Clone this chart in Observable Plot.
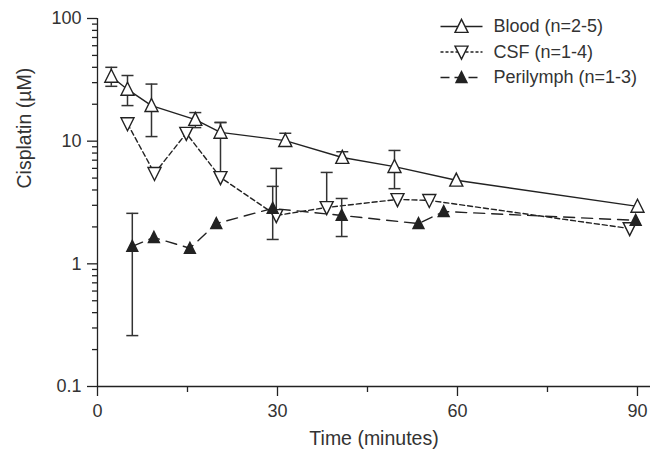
<!DOCTYPE html>
<html><head><meta charset="utf-8">
<script src="https://cdn.jsdelivr.net/npm/d3@7"></script>
<script src="https://cdn.jsdelivr.net/npm/@observablehq/plot@0.6"></script>
<style>body{margin:0;background:#fff} svg{display:block}</style>
</head><body><div id="chart"></div>
<script>
// Blood (n=2-5)
const bloodTime  = [2.3, 5, 9, 16.3, 20.5, 31.3, 40.8, 49.5, 59.8, 90];
const bloodValue = [33.7, 26.4, 19.5, 15.0, 11.8, 10.1, 7.36, 6.2, 4.8, 2.94];
const bloodHigh  = [40, 34.3, 29.2, 17.1, 14.2, 11.6, 8.2, 8.4, null, null];
const bloodLow   = [28, 19.5, 10.9, 12.9, null, 9.4, 6.7, 4.1, null, null];
// CSF (n=1-4)
const csfTime  = [5, 9.5, 14.8, 20.5, 29.8, 38.2, 50, 55.3, 88.7];
const csfValue = [13.9, 5.46, 11.6, 5.06, 2.48, 2.88, 3.35, 3.29, 1.94];
const csfHigh  = [null, null, null, 14.2, 6.0, 5.56, null, null, null];
const csfLow   = [null, null, null, null, null, null, null, null, null];
// Perilymph (n=1-3)
const periTime  = [5.8, 9.4, 15.4, 19.8, 29.2, 40.7, 53.5, 57.7, 89.7];
const periValue = [1.39, 1.64, 1.34, 2.13, 2.83, 2.48, 2.13, 2.67, 2.26];
const periHigh  = [2.58, null, null, null, 4.28, 3.41, null, null, null];
const periLow   = [0.26, null, null, null, 1.58, 1.67, null, null, null];

const seriesNames = ["Blood (n=2-5)", "CSF (n=1-4)", "Perilymph (n=1-3)"];
const xLabel = "Time (minutes)";
const yLabel = "Cisplatin (\u00b5M)";
const xTicks = [0, 30, 60, 90];
const xMinorTicks = [15, 45, 75];
const yTicks = [0.1, 1, 10, 100];
const yMinorTicks = [0.2,0.3,0.4,0.5,0.6,0.7,0.8,0.9,2,3,4,5,6,7,8,9,20,30,40,50,60,70,80,90];

function rows(t, v, hi, lo) { return t.map((d, i) => ({t: d, v: v[i], hi: hi[i], lo: lo[i]})); }
const blood = rows(bloodTime, bloodValue, bloodHigh, bloodLow);
const csf = rows(csfTime, csfValue, csfHigh, csfLow);
const peri = rows(periTime, periValue, periHigh, periLow);

const triUp = {draw(ctx, size) { const r = Math.sqrt(size / Math.PI); ctx.moveTo(0, -r * 1.1); ctx.lineTo(r, r * 0.9); ctx.lineTo(-r, r * 0.9); ctx.closePath(); }};
const triDown = {draw(ctx, size) { const r = Math.sqrt(size / Math.PI); ctx.moveTo(0, r * 1.1); ctx.lineTo(r, -r * 0.9); ctx.lineTo(-r, -r * 0.9); ctx.closePath(); }};
const cap = {draw(ctx, size) { const r = Math.sqrt(size / Math.PI); ctx.moveTo(-r, 0); ctx.lineTo(r, 0); }};
const legLine = {draw(ctx, size) { ctx.moveTo(-21, 0); ctx.lineTo(21, 0); }};

const ink = "#222";
const styles = [
  {data: blood, dash: null, legDash: null, sym: triUp, fill: "white", r: 6.5},
  {data: csf, dash: "5,3", legDash: "3,2", sym: triDown, fill: "white", r: 6.5},
  {data: peri, dash: "11,7", legDash: "9,5", sym: triUp, fill: ink, r: 5.5}
];

const marks = [
  Plot.ruleX([0], {stroke: ink, strokeWidth: 1.3}),
  Plot.ruleY([0.1], {stroke: ink, strokeWidth: 1.3}),
  Plot.axisX({ticks: xTicks, tickSize: 10, tickPadding: 8, tickFormat: d => String(d), stroke: ink, strokeWidth: 1.3, label: null}),
  Plot.axisX({ticks: xMinorTicks, tickSize: 6, tickFormat: () => "", stroke: ink, strokeWidth: 1.3, label: null}),
  Plot.axisY({ticks: yTicks, tickSize: 10, tickPadding: 6, tickFormat: d => String(d), stroke: ink, strokeWidth: 1.3, label: null}),
  Plot.axisY({ticks: yMinorTicks, tickSize: 5, tickFormat: () => "", stroke: ink, strokeWidth: 1.3, label: null}),
  Plot.text([xLabel], {frameAnchor: "bottom", dy: 52, text: d => d, lineAnchor: "middle", fontSize: 19.5, fill: "#333"}),
  Plot.text([yLabel], {frameAnchor: "left", dx: -73, dy: -14, rotate: -90, text: d => d, lineAnchor: "middle", fontSize: 19.5, fill: "#333"})
];

for (const s of styles) {
  marks.push(Plot.line(s.data, {x: "t", y: "v", stroke: ink, strokeWidth: 1.4, strokeDasharray: s.dash}));
}
for (const s of styles) {
  const hiRows = s.data.filter(d => d.hi != null);
  const loRows = s.data.filter(d => d.lo != null);
  marks.push(Plot.ruleX(hiRows, {x: "t", y1: "v", y2: "hi", stroke: "#333", strokeWidth: 1.5}));
  marks.push(Plot.ruleX(loRows, {x: "t", y1: "v", y2: "lo", stroke: "#333", strokeWidth: 1.5}));
  marks.push(Plot.dot(hiRows, {x: "t", y: "hi", symbol: cap, r: 6, stroke: "#333", strokeWidth: 1.5}));
  marks.push(Plot.dot(loRows, {x: "t", y: "lo", symbol: cap, r: 6, stroke: "#333", strokeWidth: 1.5}));
}
for (const s of styles) {
  marks.push(Plot.dot(s.data, {x: "t", y: "v", symbol: s.sym, r: s.r, fill: s.fill, stroke: ink, strokeWidth: 1.4}));
}
// legend
styles.forEach((s, i) => {
  const dy = 8 + i * 25.5;
  marks.push(Plot.dot([seriesNames[i]], {frameAnchor: "top-left", dx: 364, dy, symbol: legLine, r: 5, stroke: ink, strokeWidth: 1.4, strokeDasharray: s.legDash}));
  marks.push(Plot.dot([seriesNames[i]], {frameAnchor: "top-left", dx: 364, dy, symbol: s.sym, r: s.r, fill: s.fill, stroke: ink, strokeWidth: 1.4}));
  marks.push(Plot.text([seriesNames[i]], {frameAnchor: "top-left", dx: 396, dy, text: d => d, textAnchor: "start", lineAnchor: "middle", fill: "#333", fontSize: 18}));
});

const plot = Plot.plot({
  width: 659, height: 454,
  marginLeft: 97, marginRight: 9, marginTop: 18, marginBottom: 68,
  style: {fontFamily: "'Liberation Sans', Arial, sans-serif", fontSize: "18px", color: "#333", background: "#fff"},
  x: {domain: [0, 92.17]},
  y: {type: "log", domain: [0.1, 100]},
  marks
});
document.getElementById("chart").appendChild(plot);
</script>
</body></html>
